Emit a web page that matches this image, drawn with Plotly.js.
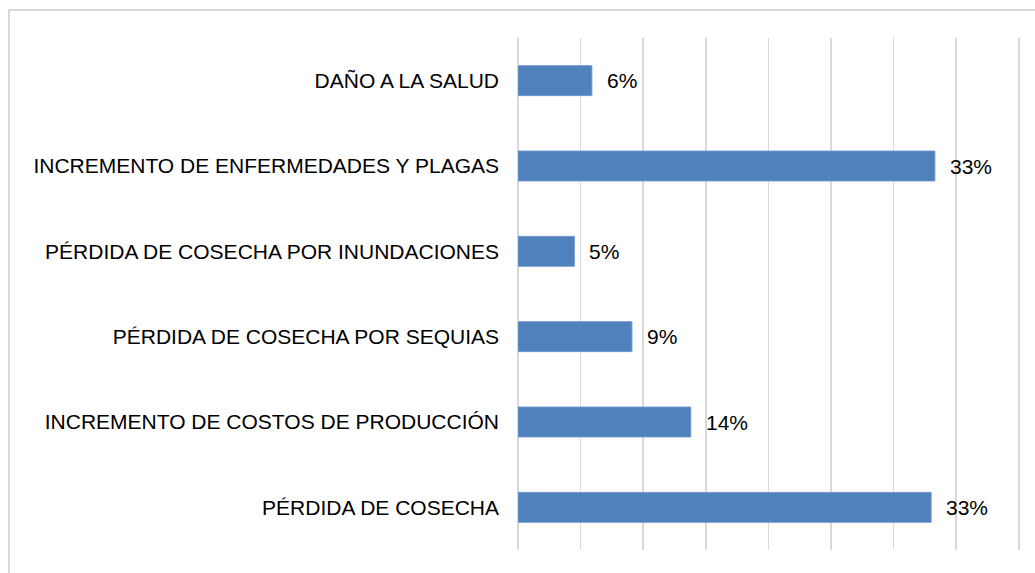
<!DOCTYPE html>
<html>
<head>
<meta charset="utf-8">
<script src="https://cdn.plot.ly/plotly-3.0.1.min.js"></script>
<style>
  html, body { margin: 0; padding: 0; background: #fff; }
  #wrap { position: relative; width: 1035px; height: 573px; overflow: hidden; }
  #chart { position: absolute; left: 0; top: 0; width: 1035px; height: 573px; }
  #frame { position: absolute; left: 8px; top: 9px; width: 1100px; height: 700px;
           border-top: 2px solid #d9d9d9; border-left: 2px solid #d9d9d9; pointer-events: none; }
</style>
</head>
<body>
<div id="wrap">
  <div id="chart"></div>
  <div id="frame"></div>
</div>
<script>
// Categories bottom to top
const categories = [
  "PÉRDIDA DE COSECHA",
  "INCREMENTO DE COSTOS DE PRODUCCIÓN",
  "PÉRDIDA DE COSECHA POR SEQUIAS",
  "PÉRDIDA DE COSECHA POR INUNDACIONES",
  "INCREMENTO DE ENFERMEDADES Y PLAGAS",
  "DAÑO A LA SALUD"
];
const values = [33.0, 13.8, 9.1, 4.5, 33.3, 5.9];
const valueLabels = ["33%", "14%", "9%", "5%", "33%", "6%"];

const font = "Liberation Sans, Arial, sans-serif";

const trace = {
  type: "bar",
  orientation: "h",
  y: categories,
  x: values,
  marker: { color: "#4f81bd", line: { color: "#7096c9", width: 1 } },
  hoverinfo: "none"
};

const annotations = categories.map((c, i) => ({
  x: values[i],
  y: c,
  xref: "x",
  yref: "y",
  text: valueLabels[i],
  showarrow: false,
  xanchor: "left",
  yanchor: "middle",
  xshift: 13,
  font: { family: font, size: 21, color: "#000" }
}));

const layout = {
  width: 1035,
  height: 573,
  margin: { l: 518, r: 15, t: 38, b: 23 },
  paper_bgcolor: "rgba(0,0,0,0)",
  plot_bgcolor: "rgba(0,0,0,0)",
  showlegend: false,
  bargap: 0.65,
  xaxis: {
    range: [0, 40.1],
    dtick: 5,
    tick0: 0,
    showticklabels: false,
    showgrid: true,
    gridcolor: "#d9d9d9",
    gridwidth: 1.5,
    zeroline: true,
    zerolinecolor: "#d9d9d9",
    zerolinewidth: 1.5,
    showline: false,
    ticks: "",
    fixedrange: true
  },
  yaxis: {
    type: "category",
    categoryorder: "array",
    categoryarray: categories,
    showgrid: false,
    zeroline: false,
    showline: false,
    ticks: "",
    ticklabelstandoff: 18,
    tickfont: { family: font, size: 21, color: "#000" },
    fixedrange: true
  },
  annotations: annotations
};

Plotly.newPlot("chart", [trace], layout, { displayModeBar: false, staticPlot: true });
</script>
</body>
</html>
